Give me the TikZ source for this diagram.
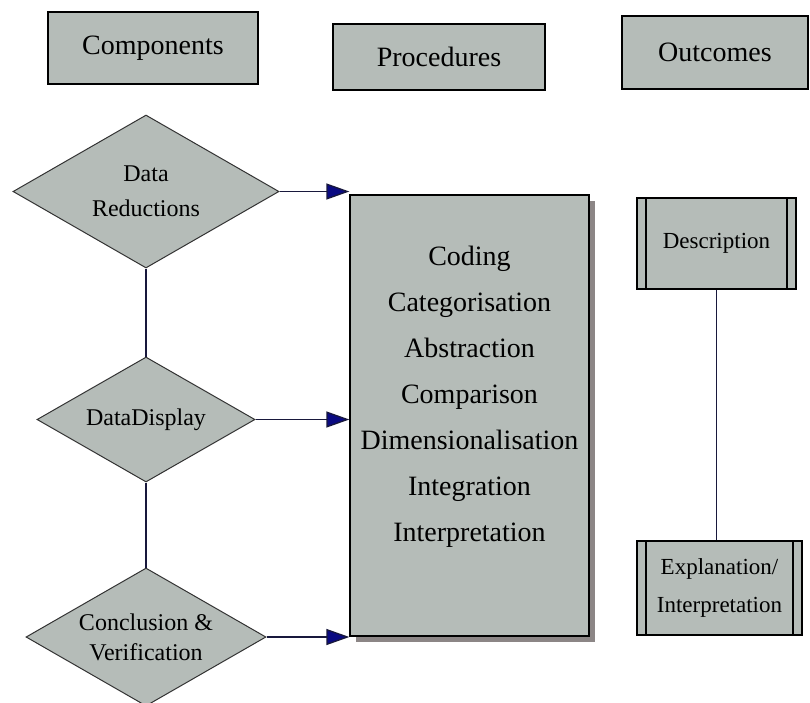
\documentclass[tikz,border=0pt]{standalone}
\usepackage{fontspec}
\setmainfont{Liberation Serif}
\usetikzlibrary{shapes.geometric,arrows.meta,shadows}

\definecolor{boxfill}{RGB}{181,188,184}
\definecolor{shadowgray}{RGB}{140,134,134}
\definecolor{linknavy}{RGB}{24,24,60}
\definecolor{tipnavy}{RGB}{10,10,130}

\tikzset{
  headbox/.style={draw=black, line width=1.3pt, fill=boxfill, inner sep=0pt,
    font=\fontsize{28}{32}\selectfont},
  stagediamond/.style={diamond, draw=black!80, line width=1pt, fill=boxfill,
    inner sep=0pt, align=center, font=\fontsize{24}{35}\selectfont},
  procbox/.style={draw=black, line width=1.3pt, fill=boxfill, inner sep=0pt,
    drop shadow={shadow xshift=6pt, shadow yshift=-6pt, fill=shadowgray, opacity=1}},
  proclist/.style={align=center, inner sep=0pt, font=\fontsize{28}{46}\selectfont},
  outcomebox/.style={draw=black, line width=1.3pt, fill=boxfill, inner sep=0pt,
    align=center, font=\fontsize{23}{38}\selectfont,
    path picture={
      \draw[line width=1.3pt]
        ([xshift=9pt]path picture bounding box.north west) --
        ([xshift=9pt]path picture bounding box.south west)
        ([xshift=-9pt]path picture bounding box.north east) --
        ([xshift=-9pt]path picture bounding box.south east);
    }},
  feed/.style={draw=linknavy, line width=1.3pt,
    -{Triangle[length=23pt, width=16pt, fill=tipnavy]}},
  link/.style={draw=linknavy, line width=1.3pt}
}

\begin{document}
\begin{tikzpicture}[x=1pt, y=-1pt]
  \useasboundingbox (0,0) rectangle (810,702);
  \begin{scope}
    \clip (0,0) rectangle (810,702);

    % column headings
    \node[headbox, minimum width=210pt, minimum height=72pt] (comp) at (153,48) {Components};
    \node[headbox, minimum width=212pt, minimum height=66pt] (proch) at (439,57) {Procedures};
    \node[headbox, minimum width=186pt, minimum height=73pt] (outc) at (715,52.5) {Outcomes};

    % components
    \node[stagediamond, aspect=1.74, minimum width=266pt, minimum height=153pt] (dr) at (146,191.5) {Data\\Reductions};
    \node[stagediamond, aspect=1.74, minimum width=218pt, minimum height=125pt] (dd) at (146,419.5) {DataDisplay};
    \node[stagediamond, aspect=1.74, minimum width=240pt, minimum height=138pt,
      font=\fontsize{24}{30}\selectfont] (cv) at (146,637) {Conclusion \&\\Verification};

    % procedures
    \node[procbox, minimum width=239pt, minimum height=441pt] (proc) at (469.5,415.5) {};
    \node[proclist] (steps) at (469.5,397) {Coding\\Categorisation\\Abstraction\\Comparison\\Dimensionalisation\\Integration\\Interpretation};

    % outcomes
    \node[outcomebox, minimum width=159pt, minimum height=91pt] (desc) at (716.5,243.5) {Description};
    \node[outcomebox, minimum width=165pt, minimum height=94pt] (expl) at (719.5,588) {Explanation/\\Interpretation};

    % connectors
    \draw[link] (dr.south) -- (dd.north);
    \draw[link] (dd.south) -- (cv.north);
    \draw[link] (desc.south) -- (desc.south |- expl.north);
    \draw[feed] (dr.east) -- (dr.east -| proc.west);
    \draw[feed] (dd.east) -- (dd.east -| proc.west);
    \draw[feed] (cv.east) -- (cv.east -| proc.west);
  \end{scope}
\end{tikzpicture}
\end{document}
